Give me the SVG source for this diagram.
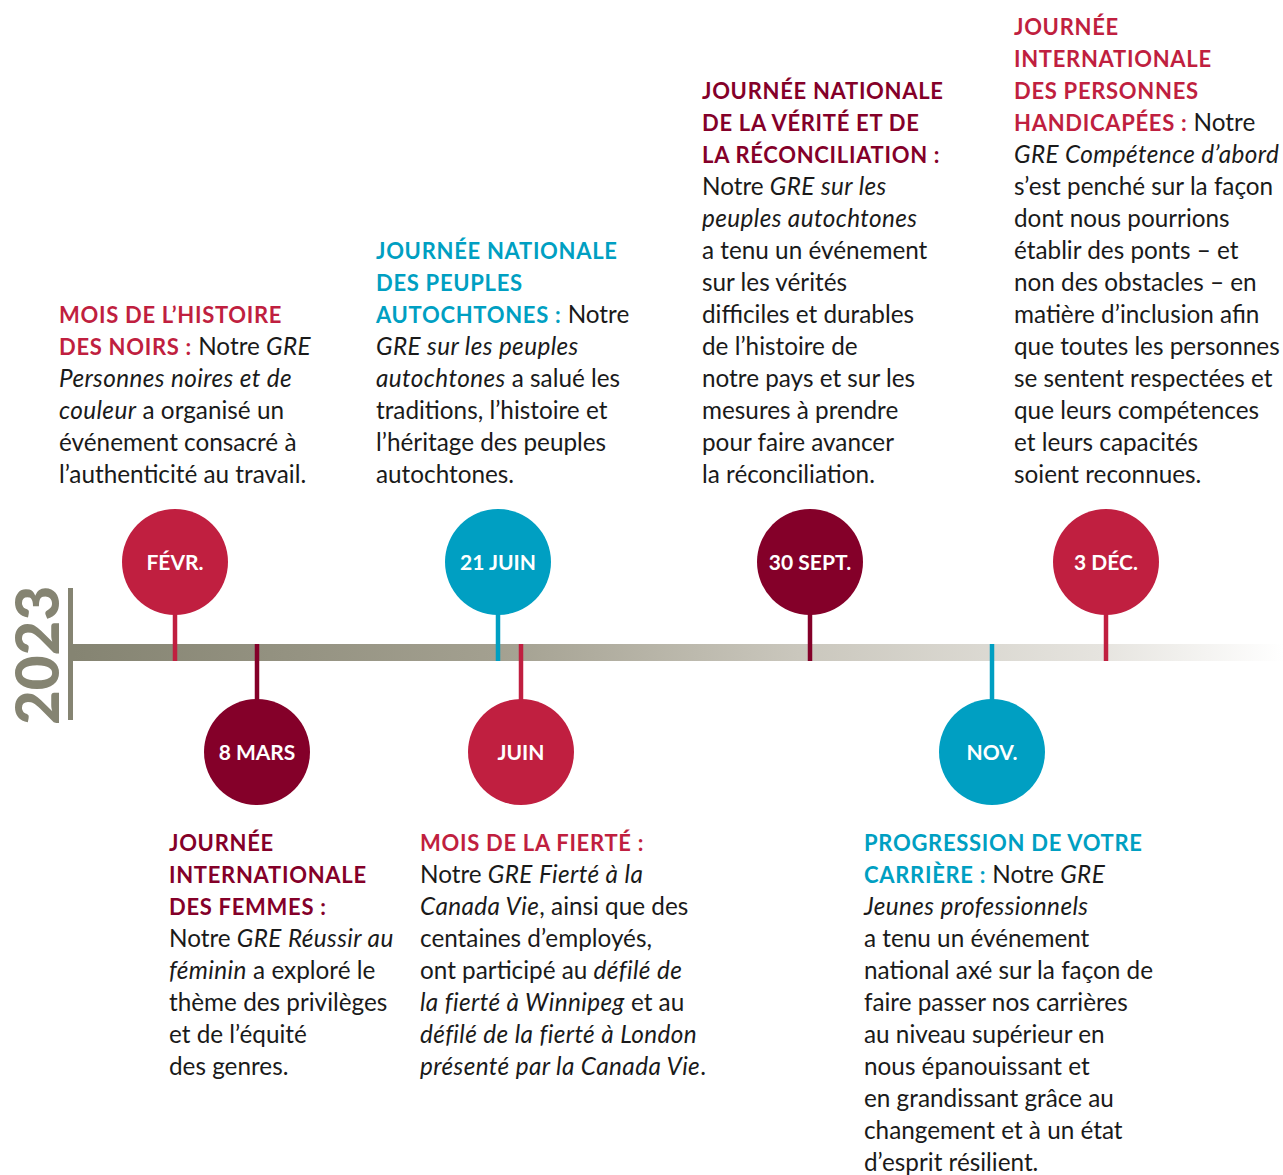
<svg xmlns="http://www.w3.org/2000/svg" width="1283" height="1175" viewBox="0 0 1283 1175">
<style>
text{font-family:Lato,"Liberation Sans",sans-serif;font-size:24.3px;fill:#1a1a1a}
.h{font-weight:700;letter-spacing:0.7px;font-size:22px}
.i{font-style:italic;letter-spacing:0.4px}
.cr{fill:#C01F40}
.mr{fill:#840029}
.tl{fill:#009FC2}
.lbl{font-weight:700;fill:#fff;font-size:21px;text-anchor:middle}
.scr{stroke:#C01F40}
.smr{stroke:#840029}
.stl{stroke:#009FC2}
.stem{stroke-width:4.5}
</style>
<defs>
<linearGradient id="bar" x1="73" y1="0" x2="1283" y2="0" gradientUnits="userSpaceOnUse">
<stop offset="0" stop-color="#858472"/>
<stop offset="0.35" stop-color="#A3A090"/>
<stop offset="0.6" stop-color="#CAC7BD"/>
<stop offset="0.85" stop-color="#E6E4DF"/>
<stop offset="1" stop-color="#ffffff"/>
</linearGradient>
</defs>
<g id="timeline">
<rect x="73" y="644" width="1210" height="17" fill="url(#bar)"/>
<rect x="68" y="588" width="5" height="132" fill="#858472"/>
<text transform="translate(59,725) rotate(-90)" style="font-size:60px;font-weight:900;fill:#858472">2023</text>
</g>
<g id="connectors">
<line class="stem scr" x1="175" y1="612" x2="175" y2="661"/>
<line class="stem smr" x1="257" y1="644" x2="257" y2="702"/>
<line class="stem stl" x1="498" y1="612" x2="498" y2="661"/>
<line class="stem scr" x1="521" y1="644" x2="521" y2="702"/>
<line class="stem smr" x1="810" y1="612" x2="810" y2="661"/>
<line class="stem stl" x1="992" y1="644" x2="992" y2="702"/>
<line class="stem scr" x1="1106" y1="612" x2="1106" y2="661"/>
</g>
<g id="fevr">
<circle cx="175" cy="562" r="53" fill="#C01F40"/>
<text class="lbl" x="175" y="570">FÉVR.</text>
<text x="59" y="323"><tspan class="h cr">MOIS DE L’HISTOIRE</tspan></text>
<text x="59" y="355"><tspan class="h cr">DES NOIRS :</tspan> Notre <tspan class="i">GRE</tspan></text>
<text x="59" y="387" class="i">Personnes noires et de</text>
<text x="59" y="419"><tspan class="i">couleur</tspan> a organisé un</text>
<text x="59" y="451">événement consacré à</text>
<text x="59" y="483">l’authenticité au travail.</text>
</g>
<g id="mars">
<circle cx="257" cy="752" r="53" fill="#840029"/>
<text class="lbl" x="257" y="760">8 MARS</text>
<text x="169" y="851"><tspan class="h mr">JOURNÉE</tspan></text>
<text x="169" y="883"><tspan class="h mr">INTERNATIONALE</tspan></text>
<text x="169" y="915"><tspan class="h mr">DES FEMMES :</tspan></text>
<text x="169" y="947">Notre <tspan class="i">GRE Réussir au</tspan></text>
<text x="169" y="979"><tspan class="i">féminin</tspan> a exploré le</text>
<text x="169" y="1011">thème des privilèges</text>
<text x="169" y="1043">et de l’équité</text>
<text x="169" y="1075">des genres.</text>
</g>
<g id="juin21">
<circle cx="498" cy="562" r="53" fill="#009FC2"/>
<text class="lbl" x="498" y="570">21 JUIN</text>
<text x="376" y="259"><tspan class="h tl">JOURNÉE NATIONALE</tspan></text>
<text x="376" y="291"><tspan class="h tl">DES PEUPLES</tspan></text>
<text x="376" y="323"><tspan class="h tl">AUTOCHTONES :</tspan> Notre</text>
<text x="376" y="355" class="i">GRE sur les peuples</text>
<text x="376" y="387"><tspan class="i">autochtones</tspan> a salué les</text>
<text x="376" y="419">traditions, l’histoire et</text>
<text x="376" y="451">l’héritage des peuples</text>
<text x="376" y="483">autochtones.</text>
</g>
<g id="juin">
<circle cx="521" cy="752" r="53" fill="#C01F40"/>
<text class="lbl" x="521" y="760">JUIN</text>
<text x="420" y="851"><tspan class="h cr">MOIS DE LA FIERTÉ :</tspan></text>
<text x="420" y="883">Notre <tspan class="i">GRE Fierté à la</tspan></text>
<text x="420" y="915"><tspan class="i">Canada Vie</tspan>, ainsi que des</text>
<text x="420" y="947">centaines d’employés,</text>
<text x="420" y="979">ont participé au <tspan class="i">défilé de</tspan></text>
<text x="420" y="1011"><tspan class="i">la fierté à Winnipeg</tspan> et au</text>
<text x="420" y="1043" class="i">défilé de la fierté à London</text>
<text x="420" y="1075"><tspan class="i">présenté par la Canada Vie</tspan>.</text>
</g>
<g id="sept30">
<circle cx="810" cy="562" r="53" fill="#840029"/>
<text class="lbl" x="810" y="570">30 SEPT.</text>
<text x="702" y="99"><tspan class="h mr">JOURNÉE NATIONALE</tspan></text>
<text x="702" y="131"><tspan class="h mr">DE LA VÉRITÉ ET DE</tspan></text>
<text x="702" y="163"><tspan class="h mr">LA RÉCONCILIATION :</tspan></text>
<text x="702" y="195">Notre <tspan class="i">GRE sur les</tspan></text>
<text x="702" y="227" class="i">peuples autochtones</text>
<text x="702" y="259">a tenu un événement</text>
<text x="702" y="291">sur les vérités</text>
<text x="702" y="323">difficiles et durables</text>
<text x="702" y="355">de l’histoire de</text>
<text x="702" y="387">notre pays et sur les</text>
<text x="702" y="419">mesures à prendre</text>
<text x="702" y="451">pour faire avancer</text>
<text x="702" y="483">la réconciliation.</text>
</g>
<g id="nov">
<circle cx="992" cy="752" r="53" fill="#009FC2"/>
<text class="lbl" x="992" y="760">NOV.</text>
<text x="864" y="851"><tspan class="h tl">PROGRESSION DE VOTRE</tspan></text>
<text x="864" y="883"><tspan class="h tl">CARRIÈRE :</tspan> Notre <tspan class="i">GRE</tspan></text>
<text x="864" y="915" class="i">Jeunes professionnels</text>
<text x="864" y="947">a tenu un événement</text>
<text x="864" y="979">national axé sur la façon de</text>
<text x="864" y="1011">faire passer nos carrières</text>
<text x="864" y="1043">au niveau supérieur en</text>
<text x="864" y="1075">nous épanouissant et</text>
<text x="864" y="1107">en grandissant grâce au</text>
<text x="864" y="1139">changement et à un état</text>
<text x="864" y="1171">d’esprit résilient.</text>
</g>
<g id="dec3">
<circle cx="1106" cy="562" r="53" fill="#C01F40"/>
<text class="lbl" x="1106" y="570">3 DÉC.</text>
<text x="1014" y="35"><tspan class="h cr">JOURNÉE</tspan></text>
<text x="1014" y="67"><tspan class="h cr">INTERNATIONALE</tspan></text>
<text x="1014" y="99"><tspan class="h cr">DES PERSONNES</tspan></text>
<text x="1014" y="131"><tspan class="h cr">HANDICAPÉES :</tspan> Notre</text>
<text x="1014" y="163" class="i">GRE Compétence d’abord</text>
<text x="1014" y="195">s’est penché sur la façon</text>
<text x="1014" y="227">dont nous pourrions</text>
<text x="1014" y="259">établir des ponts – et</text>
<text x="1014" y="291">non des obstacles – en</text>
<text x="1014" y="323">matière d’inclusion afin</text>
<text x="1014" y="355">que toutes les personnes</text>
<text x="1014" y="387">se sentent respectées et</text>
<text x="1014" y="419">que leurs compétences</text>
<text x="1014" y="451">et leurs capacités</text>
<text x="1014" y="483">soient reconnues.</text>
</g>
</svg>
